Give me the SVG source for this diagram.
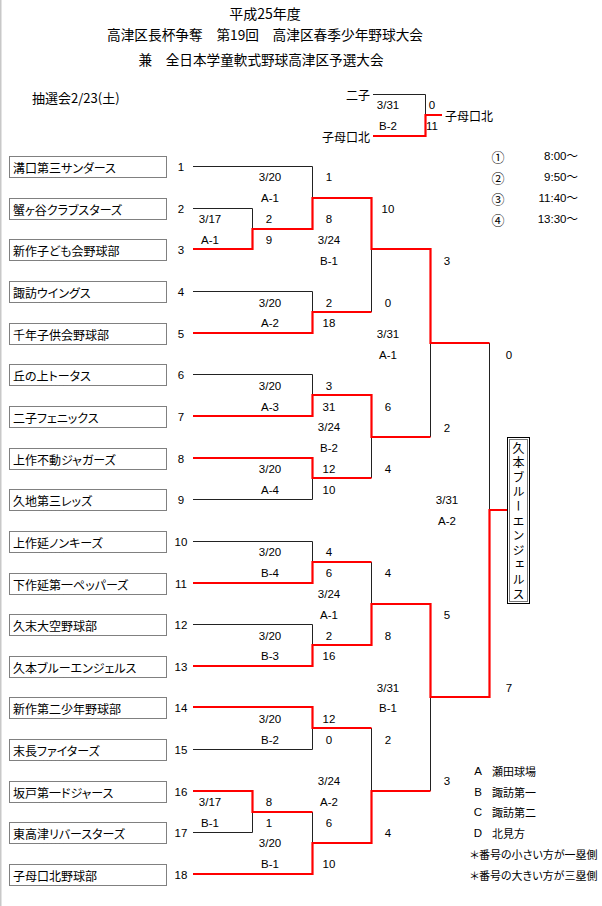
<svg xmlns="http://www.w3.org/2000/svg" width="602" height="906" viewBox="0 0 602 906">
<style>
.bg{fill:#fff}
.frame{stroke:#c8c8c8;stroke-width:1.5;fill:none}
.box{fill:#fff;stroke:#000;stroke-width:1;stroke-dasharray:1,1}
.nm{font-family:"Noto Sans CJK JP","Liberation Sans",sans-serif;font-size:12px;font-feature-settings:"palt" 1;dominant-baseline:central;fill:#000}
.num{font-family:"Liberation Sans","Noto Sans CJK JP",sans-serif;font-size:11.5px;text-anchor:middle;dominant-baseline:central;fill:#000}
.ttl{font-family:"Noto Sans CJK JP","Liberation Sans",sans-serif;font-size:13.5px;text-anchor:middle;dominant-baseline:central;fill:#000}
.lg{font-family:"Noto Sans CJK JP","Liberation Sans",sans-serif;font-size:11px;font-feature-settings:"palt" 1;dominant-baseline:central;fill:#000}
.k{stroke:#222;stroke-width:1;fill:none}
.r{stroke:#f00;stroke-width:2.2;fill:none;stroke-linejoin:miter}
</style>
<rect class="bg" x="0" y="0" width="602" height="906"/>
<line class="frame" x1="0.75" y1="0" x2="0.75" y2="906"/>

<g id="title">
<text class="ttl" x="265" y="13" style="font-size:14px">平成25年度</text>
<text class="ttl" x="265" y="34" textLength="316" lengthAdjust="spacingAndGlyphs">高津区長杯争奪　第19回　高津区春季少年野球大会</text>
<text class="ttl" x="261" y="59" textLength="245" lengthAdjust="spacingAndGlyphs">兼　全日本学童軟式野球高津区予選大会</text>
<text class="ttl" x="32" y="97" style="text-anchor:start;font-size:13px">抽選会2/23(土)</text>
</g>

<g id="connectors">
<!-- black / gray lines -->
<path class="k" d="M193 166.5H312.5V198 M193 208.5H252.5V229 M193 291.5H312.5V312 M193 374.5H312.5V395 M312.5 478V499.5H193 M193 541.5H312.5V562 M193 624.5H312.5V645 M312.5 728V749.5H193 M193 832.5H252.5V812 M312.5 812V843"/>
<path class="k" d="M371.5 249V312 M371.5 437V478 M371.5 562V604 M371.5 728V791 M430.5 343V437 M430.5 697V791 M489.5 343V510"/>
<path class="k" d="M373 94.5H425.5V115"/>
<!-- red winner paths -->
<path class="r" d="M193 249H252.5V229H312.5V198H371.5V249H430.5V343H489.5"/>
<path class="r" d="M193 333H312.5V312H371.5"/>
<path class="r" d="M193 416H312.5V395H371.5V437H430.5"/>
<path class="r" d="M193 458H312.5V478H371.5"/>
<path class="r" d="M193 583H312.5V562H371.5"/>
<path class="r" d="M193 666H312.5V645H371.5V604H430.5V697H489.5V510H507"/>
<path class="r" d="M193 707H312.5V728H371.5"/>
<path class="r" d="M193 791H252.5V812H312.5"/>
<path class="r" d="M193 874H312.5V843H371.5V791H430.5"/>
<path class="r" d="M373 136H425.5V115H442"/>
</g>

<g id="team1"><rect class="box" x="9.5" y="156.5" width="157" height="21"/><text class="nm" x="13" y="167">溝口第三サンダース</text><text class="num" x="181" y="167">1</text></g>
<g id="team2"><rect class="box" x="9.5" y="198.5" width="157" height="21"/><text class="nm" x="13" y="209">蟹ヶ谷クラブスターズ</text><text class="num" x="181" y="209">2</text></g>
<g id="team3"><rect class="box" x="9.5" y="239.5" width="157" height="21"/><text class="nm" x="13" y="250">新作子ども会野球部</text><text class="num" x="181" y="250">3</text></g>
<g id="team4"><rect class="box" x="9.5" y="281.5" width="157" height="21"/><text class="nm" x="13" y="292">諏訪ウイングス</text><text class="num" x="181" y="292">4</text></g>
<g id="team5"><rect class="box" x="9.5" y="323.5" width="157" height="21"/><text class="nm" x="13" y="334">千年子供会野球部</text><text class="num" x="181" y="334">5</text></g>
<g id="team6"><rect class="box" x="9.5" y="364.5" width="157" height="21"/><text class="nm" x="13" y="375">丘の上トータス</text><text class="num" x="181" y="375">6</text></g>
<g id="team7"><rect class="box" x="9.5" y="406.5" width="157" height="21"/><text class="nm" x="13" y="417">二子フェニックス</text><text class="num" x="181" y="417">7</text></g>
<g id="team8"><rect class="box" x="9.5" y="448.5" width="157" height="21"/><text class="nm" x="13" y="459">上作不動ジャガーズ</text><text class="num" x="181" y="459">8</text></g>
<g id="team9"><rect class="box" x="9.5" y="489.5" width="157" height="21"/><text class="nm" x="13" y="500">久地第三レッズ</text><text class="num" x="181" y="500">9</text></g>
<g id="team10"><rect class="box" x="9.5" y="531.5" width="157" height="21"/><text class="nm" x="13" y="542">上作延ノンキーズ</text><text class="num" x="181" y="542">10</text></g>
<g id="team11"><rect class="box" x="9.5" y="573.5" width="157" height="21"/><text class="nm" x="13" y="584">下作延第一ペッパーズ</text><text class="num" x="181" y="584">11</text></g>
<g id="team12"><rect class="box" x="9.5" y="614.5" width="157" height="21"/><text class="nm" x="13" y="625">久末大空野球部</text><text class="num" x="181" y="625">12</text></g>
<g id="team13"><rect class="box" x="9.5" y="656.5" width="157" height="21"/><text class="nm" x="13" y="667">久本ブルーエンジェルス</text><text class="num" x="181" y="667">13</text></g>
<g id="team14"><rect class="box" x="9.5" y="697.5" width="157" height="21"/><text class="nm" x="13" y="708">新作第二少年野球部</text><text class="num" x="181" y="708">14</text></g>
<g id="team15"><rect class="box" x="9.5" y="739.5" width="157" height="21"/><text class="nm" x="13" y="750">末長ファイターズ</text><text class="num" x="181" y="750">15</text></g>
<g id="team16"><rect class="box" x="9.5" y="781.5" width="157" height="21"/><text class="nm" x="13" y="792">坂戸第一ドジャース</text><text class="num" x="181" y="792">16</text></g>
<g id="team17"><rect class="box" x="9.5" y="822.5" width="157" height="21"/><text class="nm" x="13" y="833">東高津リバースターズ</text><text class="num" x="181" y="833">17</text></g>
<g id="team18"><rect class="box" x="9.5" y="864.5" width="157" height="21"/><text class="nm" x="13" y="875">子母口北野球部</text><text class="num" x="181" y="875">18</text></g>

<g id="match-p1"><text class="num" x="210" y="219">3/17</text><text class="num" x="210" y="240">A-1</text><text class="num" x="269" y="219">2</text><text class="num" x="269" y="240">9</text></g>
<g id="match-r1a1"><text class="num" x="270" y="177">3/20</text><text class="num" x="270" y="198">A-1</text><text class="num" x="329" y="177">1</text><text class="num" x="329" y="219">8</text></g>
<g id="match-r2b1"><text class="num" x="329" y="240">3/24</text><text class="num" x="329" y="261">B-1</text><text class="num" x="388" y="209">10</text><text class="num" x="388" y="303">0</text></g>
<g id="match-r1a2"><text class="num" x="270" y="303">3/20</text><text class="num" x="270" y="323">A-2</text><text class="num" x="329" y="303">2</text><text class="num" x="329" y="323">18</text></g>
<g id="match-r3a1"><text class="num" x="388" y="334">3/31</text><text class="num" x="388" y="355">A-1</text><text class="num" x="447" y="261">3</text><text class="num" x="447" y="428">2</text></g>
<g id="match-r1a3"><text class="num" x="270" y="386">3/20</text><text class="num" x="270" y="407">A-3</text><text class="num" x="329" y="386">3</text><text class="num" x="329" y="407">31</text></g>
<g id="match-r2b2"><text class="num" x="329" y="427">3/24</text><text class="num" x="329" y="448">B-2</text><text class="num" x="388" y="407">6</text><text class="num" x="388" y="469">4</text></g>
<g id="match-r1a4"><text class="num" x="270" y="469">3/20</text><text class="num" x="270" y="490">A-4</text><text class="num" x="329" y="469">12</text><text class="num" x="329" y="490">10</text></g>
<g id="match-r4a2"><text class="num" x="447" y="500">3/31</text><text class="num" x="447" y="521">A-2</text><text class="num" x="509" y="355">0</text><text class="num" x="509" y="688">7</text></g>
<g id="match-r1b4"><text class="num" x="270" y="552">3/20</text><text class="num" x="270" y="573">B-4</text><text class="num" x="329" y="552">4</text><text class="num" x="329" y="573">6</text></g>
<g id="match-r2a1"><text class="num" x="329" y="594">3/24</text><text class="num" x="329" y="615">A-1</text><text class="num" x="388" y="573">4</text><text class="num" x="388" y="636">8</text></g>
<g id="match-r1b3"><text class="num" x="270" y="636">3/20</text><text class="num" x="270" y="656">B-3</text><text class="num" x="329" y="636">2</text><text class="num" x="329" y="656">16</text></g>
<g id="match-r3b1"><text class="num" x="388" y="688">3/31</text><text class="num" x="388" y="708">B-1</text><text class="num" x="447" y="615">5</text><text class="num" x="447" y="781">3</text></g>
<g id="match-r1b2"><text class="num" x="270" y="719">3/20</text><text class="num" x="270" y="740">B-2</text><text class="num" x="329" y="719">12</text><text class="num" x="329" y="740">0</text></g>
<g id="match-r2a2"><text class="num" x="329" y="781">3/24</text><text class="num" x="329" y="802">A-2</text><text class="num" x="388" y="740">2</text><text class="num" x="388" y="833">4</text></g>
<g id="match-p2"><text class="num" x="210" y="802">3/17</text><text class="num" x="210" y="823">B-1</text><text class="num" x="269" y="802">8</text><text class="num" x="269" y="823">1</text></g>
<g id="match-r1b1"><text class="num" x="270" y="843">3/20</text><text class="num" x="270" y="864">B-1</text><text class="num" x="329" y="823">6</text><text class="num" x="329" y="864">10</text></g>

<g id="champion">
<rect x="507.5" y="437.5" width="22" height="166" fill="#fff" stroke="#000" stroke-width="1"/>
<rect x="509.5" y="439.5" width="18" height="162" fill="none" stroke="#777" stroke-width="1"/>
<text x="518.5" y="442" writing-mode="vertical-rl" style="font-family:'Noto Sans CJK JP',sans-serif;font-size:12px;letter-spacing:2.6px;fill:#000">久本ブルーエンジェルス</text>
</g>

<g id="playoff">
<text class="nm" x="370" y="94" style="text-anchor:end">二子</text>
<text class="nm" x="370" y="136" style="text-anchor:end">子母口北</text>
<text class="nm" x="445" y="115">子母口北</text>
<text class="num" x="388" y="105">3/31</text>
<text class="num" x="388" y="126">B-2</text>
<text class="num" x="432" y="105">0</text>
<text class="num" x="432" y="126">11</text>
</g>

<g id="times">
<text class="nm" x="498" y="156" style="text-anchor:middle;font-size:13px">①</text><text class="num" x="578" y="156" style="text-anchor:end">8:00～</text>
<text class="nm" x="498" y="177" style="text-anchor:middle;font-size:13px">②</text><text class="num" x="578" y="177" style="text-anchor:end">9:50～</text>
<text class="nm" x="498" y="198" style="text-anchor:middle;font-size:13px">③</text><text class="num" x="578" y="198" style="text-anchor:end">11:40～</text>
<text class="nm" x="498" y="219" style="text-anchor:middle;font-size:13px">④</text><text class="num" x="578" y="219" style="text-anchor:end">13:30～</text>
</g>

<g id="legend">
<text class="num" x="478" y="771">A</text><text class="lg" x="492" y="771">瀬田球場</text>
<text class="num" x="478" y="792">B</text><text class="lg" x="492" y="792">諏訪第一</text>
<text class="num" x="478" y="812">C</text><text class="lg" x="492" y="812">諏訪第二</text>
<text class="num" x="478" y="833">D</text><text class="lg" x="492" y="833">北見方</text>
<text class="lg" x="470" y="854">＊番号の小さい方が一塁側</text>
<text class="lg" x="470" y="875">＊番号の大きい方が三塁側</text>
</g>
</svg>
